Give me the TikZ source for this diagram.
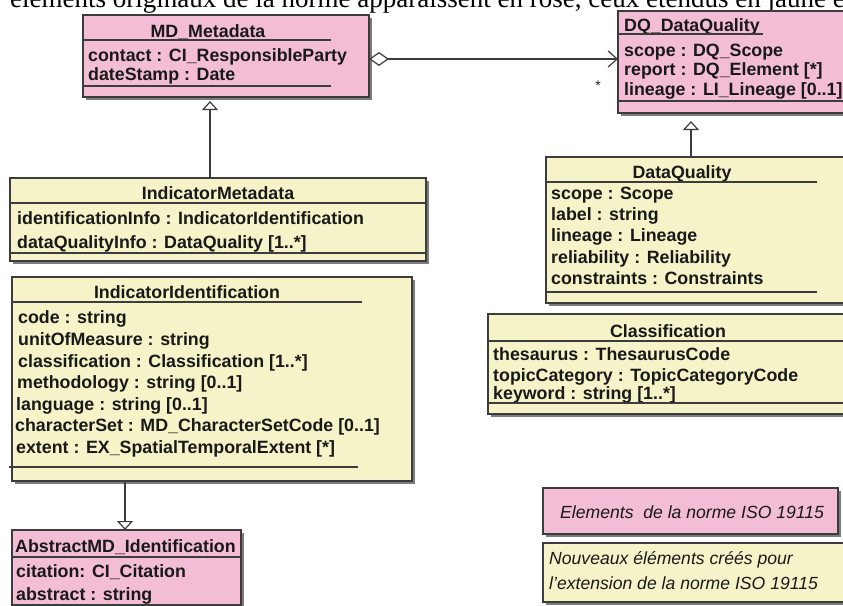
\documentclass[tikz,border=0pt]{standalone}
\usepackage{fontspec}
\setmainfont{Liberation Serif}
\setsansfont{Liberation Sans}
\usetikzlibrary{arrows.meta,shadows,calc}
\definecolor{umlpink}{RGB}{243,189,213}
\definecolor{umlyellow}{RGB}{246,243,201}
\definecolor{umlline}{RGB}{60,60,60}
\definecolor{umltext}{RGB}{25,25,25}
\definecolor{umlshadow}{RGB}{125,125,125}
\tikzset{
  classbox/.style={draw=umlline, line width=1.3pt, inner sep=0pt, outer sep=0pt, anchor=north west,
    drop shadow={shadow xshift=3pt, shadow yshift=-3pt, fill=umlshadow, opacity=1}},
  pinkbox/.style={classbox, fill=umlpink},
  yellowbox/.style={classbox, fill=umlyellow},
  sepline/.style={draw=umlline, line width=1.2pt},
  attr/.style={anchor=base west, inner sep=0pt, text=umltext, font=\sffamily\bfseries\fontsize{17.8}{20}\selectfont},
  ctitle/.style={anchor=base, inner sep=0pt, text=umltext, font=\sffamily\bfseries\fontsize{17.8}{20}\selectfont},
  legtext/.style={anchor=base west, inner sep=0pt, text=umltext, font=\sffamily\itshape\fontsize{17.6}{20}\selectfont},
  gen/.style={draw=umlline, line width=1.2pt, -{Triangle[open, length=9pt, width=16pt, fill=white]}},
  aggr/.style={draw=umlline, line width=1.2pt, {Diamond[open, length=20pt, width=14pt, fill=white]}-{Straight Barb[length=9pt, width=16pt]}},
}
\begin{document}
\begin{tikzpicture}[x=1pt,y=-1pt]
\useasboundingbox (0,0) rectangle (843,605);
\clip (0,0) rectangle (843,605);
\fill[white] (0,0) rectangle (843,605);

% caption (cut off at top)
\node[anchor=base west, inner sep=0pt, font=\fontsize{27}{30}\selectfont] (cap) at (10,7)
  {éléments originaux de la norme apparaissent en rose, ceux étendus en jaune et};

% MD_Metadata
\node[pinkbox, minimum width=286pt, minimum height=82pt] (md) at (83,15) {};
\node[ctitle] (mdt) at (208,37) {MD\_Metadata};
\draw[sepline] (83,40) -- (331,40);
\node[attr] (md1) at (88,61) {contact : CI\_ResponsibleParty};
\node[attr] (md2) at (88,80) {dateStamp : Date};
\draw[sepline] (83,86) -- (331,86);

% DQ_DataQuality
\node[pinkbox, minimum width=227pt, minimum height=102pt] (dq) at (618,11) {};
\node[attr] (dqt) at (624,31) {DQ\_DataQuality};
\draw[sepline] (618,34) -- (763,34);
\node[attr] (dq1) at (624,56) {scope : DQ\_Scope};
\node[attr] (dq2) at (624,75) {report : DQ\_Element [*]};
\node[attr] (dq3) at (624,95) {lineage : LI\_Lineage [0..1]};
\draw[sepline] (618,101) -- (845,101);

% DataQuality
\node[yellowbox, minimum width=299pt, minimum height=146pt] (dataq) at (546,157) {};
\node[ctitle] (dataqt) at (682,178) {DataQuality};
\draw[sepline] (546,182) -- (817,182);
\node[attr] (da1) at (551,199) {scope : Scope};
\node[attr] (da2) at (551,220) {label : string};
\node[attr] (da3) at (551,241) {lineage : Lineage};
\node[attr] (da4) at (551,263) {reliability : Reliability};
\node[attr] (da5) at (551,284) {constraints : Constraints};
\draw[sepline] (546,292) -- (817,292);

% Classification
\node[yellowbox, minimum width=360pt, minimum height=100pt] (cls) at (488,314) {};
\node[ctitle] (clst) at (668,337) {Classification};
\draw[sepline] (488,341) -- (848,341);
\node[attr] (cl1) at (493,360) {thesaurus : ThesaurusCode};
\node[attr] (cl2) at (493,381) {topicCategory : TopicCategoryCode};
\node[attr] (cl3) at (493,399) {keyword : string [1..*]};
\draw[sepline] (488,403) -- (848,403);

% IndicatorMetadata
\node[yellowbox, minimum width=416pt, minimum height=83pt] (imeta) at (10,178) {};
\node[ctitle] (imetat) at (218,199) {IndicatorMetadata};
\draw[sepline] (10,203) -- (426,203);
\node[attr] (im1) at (17,224) {identificationInfo : IndicatorIdentification};
\node[attr] (im2) at (17,248) {dataQualityInfo : DataQuality [1..*]};
\draw[sepline] (10,253) -- (426,253);

% IndicatorIdentification
\node[yellowbox, minimum width=400pt, minimum height=204pt] (iid) at (12,277) {};
\node[ctitle] (iidt) at (187,298) {IndicatorIdentification};
\draw[sepline] (12,302) -- (362,302);
\node[attr] (ii1) at (18,323) {code : string};
\node[attr] (ii2) at (18,345) {unitOfMeasure : string};
\node[attr] (ii3) at (18,367) {classification : Classification [1..*]};
\node[attr] (ii4) at (17,388) {methodology : string [0..1]};
\node[attr] (ii5) at (16,410) {language : string [0..1]};
\node[attr] (ii6) at (15,431) {characterSet : MD\_CharacterSetCode [0..1]};
\node[attr] (ii7) at (16,453) {extent : EX\_SpatialTemporalExtent [*]};
\draw[sepline] (9,467) -- (358,467);

% AbstractMD_Identification
\node[pinkbox, minimum width=229pt, minimum height=95pt] (amd) at (12,530) {};
\node[attr] (amdt) at (15,552) {AbstractMD\_Identification};
\draw[sepline] (12,557) -- (241,557);
\node[attr] (am1) at (16,577) {citation: CI\_Citation};
\node[attr] (am2) at (16,600) {abstract : string};
\draw[sepline] (12,605) -- (241,605);

% Legend
\node[pinkbox, minimum width=295pt, minimum height=46pt] (legp) at (543,488) {};
\node[legtext] (legpt) at (560,518) {Elements\ \ de la norme ISO 19115};
\node[yellowbox, minimum width=302pt, minimum height=59pt] (legy) at (543,543) {};
\node[legtext] (legyt1) at (549,564) {Nouveaux éléments créés pour};
\node[legtext] (legyt2) at (549,589) {l'extension de la norme ISO 19115};

% connectors
\coordinate (aggy) at (0,59);
\draw[aggr] (md.east |- aggy) -- (dq.west |- aggy);
\node[inner sep=0pt, text=umltext, font=\sffamily\fontsize{14}{14}\selectfont] (star) at (598,86) {*};

\coordinate (g1) at (691,0);
\draw[gen] (g1 |- dataq.north) -- ($(g1 |- dq.south)+(0,8)$);
\coordinate (g2) at (210,0);
\draw[gen] (g2 |- imeta.north) -- ($(g2 |- md.south)+(0,4)$);
\coordinate (g3) at (125,0);
\draw[gen] (g3 |- iid.south) -- (g3 |- amd.north);
\end{tikzpicture}
\end{document}
